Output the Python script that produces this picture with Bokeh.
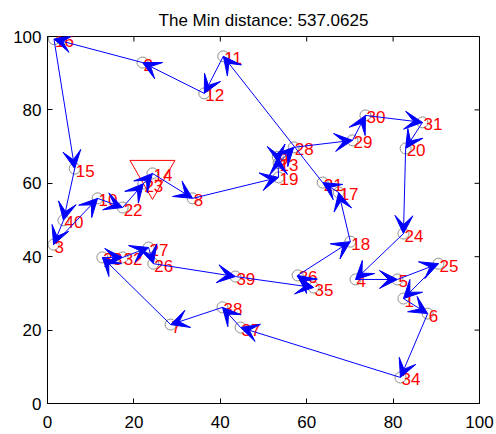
import math
from bokeh.plotting import figure
from bokeh.models import ColumnDataSource, Arrow, VeeHead, FixedTicker, Range1d
from bokeh.embed import file_html
from bokeh.resources import INLINE
from bokeh.core.properties import value

# City coordinates (index 1..40)
city_x = [82.4, 22.0, 1.4, 71.3, 81.0, 88.0, 28.5, 33.6, 53.3, 11.6,
          40.7, 36.3, 53.5, 24.3, 6.3, 1.5, 67.4, 70.1, 53.5, 82.9,
          63.7, 17.4, 22.2, 82.4, 90.5, 24.5, 23.4, 57.0, 70.6, 73.6,
          86.8, 17.4, 12.7, 81.7, 61.6, 57.9, 44.7, 40.5, 43.5, 3.7]
city_y = [28.6, 92.9, 43.3, 33.8, 33.8, 24.5, 21.5, 55.9, 67.2, 55.9,
          94.6, 84.5, 65.5, 62.7, 64.0, 99.3, 57.5, 44.1, 61.6, 69.5,
          60.2, 53.4, 59.9, 46.3, 38.1, 38.1, 42.5, 69.8, 71.7, 78.5,
          76.6, 39.8, 39.8, 7.1, 31.6, 34.9, 20.7, 26.2, 34.6, 49.9]
city_labels = [str(i) for i in range(1, 41)]

# Tour order (city numbers), returning to the start
route = [14, 8, 19, 9, 13, 28, 29, 30, 31, 20, 24, 4, 5, 25, 1, 6, 34, 37,
         38, 7, 33, 32, 27, 26, 39, 35, 36, 18, 17, 21, 11, 12, 2, 16, 15,
         40, 3, 10, 22, 23, 14]
start_city = 14
title_text = "The Min distance: 537.0625"
ticks = [0, 20, 40, 60, 80, 100]

FONT = "Liberation Sans"

p = figure(width=496, height=434, x_range=Range1d(0, 100), y_range=Range1d(0, 100),
           output_backend="svg", toolbar_location=None,
           min_border_left=47, min_border_right=17, min_border_top=36, min_border_bottom=31,
           title=title_text)
p.title.align = "center"
p.title.vertical_align = "top"
p.title.text_font = FONT
p.title.text_font_size = "17px"
p.title.text_font_style = "normal"
p.title.text_color = "black"
p.grid.visible = False
p.outline_line_color = "black"
p.background_fill_color = "white"
p.border_fill_color = "white"

for ax in [p.xaxis[0], p.yaxis[0]]:
    ax.ticker = FixedTicker(ticks=ticks)
    ax.major_tick_in = 5
    ax.major_tick_out = 0
    ax.minor_tick_line_color = None
    ax.axis_line_color = "black"
    ax.major_tick_line_color = "black"
    ax.major_label_text_font = FONT
    ax.major_label_text_font_size = "17px"
    ax.major_label_text_color = "black"
p.xaxis.major_label_standoff = 12
p.yaxis.major_label_standoff = 6

# inward ticks on the top and right frame edges (half of each dash is clipped)
p.scatter(ticks, [100] * len(ticks), marker="dash", angle=math.pi / 2, size=10,
          line_color="black", line_width=1)
p.scatter([100] * len(ticks), ticks, marker="dash", size=10,
          line_color="black", line_width=1)

src = ColumnDataSource(dict(x=city_x, y=city_y, label=city_labels))
p.scatter("x", "y", source=src, marker="circle", size=11, fill_color=None,
          line_color="#8c8c8c", line_width=1)
p.text("x", "y", text="label", source=src, text_color="red",
       text_font=value(FONT), text_font_size="17px", text_baseline="middle",
       text_align="left", x_offset=1, y_offset=2)

p.scatter([city_x[start_city - 1]], [city_y[start_city - 1]], marker="inverted_triangle",
          size=45, fill_color=None, line_color="red", line_width=1)

x0 = [city_x[c - 1] for c in route[:-1]]
y0 = [city_y[c - 1] for c in route[:-1]]
x1 = [city_x[c - 1] for c in route[1:]]
y1 = [city_y[c - 1] for c in route[1:]]
asrc = ColumnDataSource(dict(x0=x0, y0=y0, x1=x1, y1=y1))
p.add_layout(Arrow(end=VeeHead(size=18, fill_color="blue", line_color="blue", line_width=1),
                   x_start="x0", y_start="y0", x_end="x1", y_end="y1", source=asrc,
                   line_color="blue", line_width=1))

open("out.html", "w").write(file_html(p, INLINE))
